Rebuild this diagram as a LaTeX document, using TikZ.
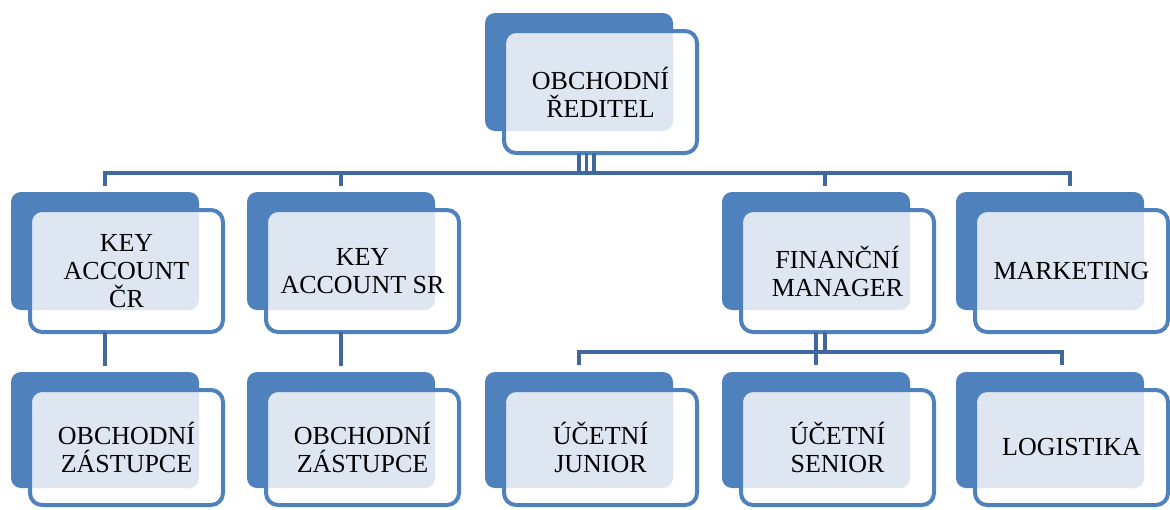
\documentclass[tikz,border=0pt]{standalone}
\usepackage{fontspec}
\setmainfont{Liberation Serif}
\usepackage{xcolor}
\usepackage{tikz}

\definecolor{boxblue}{RGB}{79,129,189}
\definecolor{lineblue}{RGB}{62,104,158}
\definecolor{dotblue}{RGB}{222,230,242}

% one box: name, left x and top y of the back shape, text
\newcommand{\orgbox}[4]{%
  \node[backbox, anchor=north west] (#1-b) at (#2,#3) {};
  \node[frontbox, anchor=north west] (#1) at (#2+19,#3+18) {};
  \begin{scope}
    \clip[rounded corners=10pt] (#1-b.south west) rectangle (#1-b.north east);
    \fill[dotblue, rounded corners=12pt] (#1.south west) rectangle (#1.north east);
  \end{scope}
  \draw[frontline] (#1.south west) rectangle (#1.north east);
  \node[boxtext] (#1-t) at (#1.center) {#4};
}

\begin{document}
\begin{tikzpicture}[x=1pt, y=-1pt,
  backbox/.style={fill=boxblue, rounded corners=10pt, minimum width=188pt,
    minimum height=118pt, inner sep=0pt, outer sep=0pt},
  frontbox/.style={fill=white, rounded corners=12pt, minimum width=193pt,
    minimum height=122pt, inner sep=0pt, outer sep=0pt},
  frontline/.style={draw=boxblue, line width=4pt, rounded corners=12pt},
  boxtext/.style={align=center, inner sep=0pt, font=\fontsize{26}{28}\selectfont},
  link/.style={draw=lineblue, line width=4pt}]

  \useasboundingbox (0,0) rectangle (1170,509);

  % top
  \orgbox{top}{485}{13}{OBCHODNÍ\\ŘEDITEL}

  % row 1
  \orgbox{kacr}{11}{192}{KEY\\ACCOUNT\\ČR}
  \orgbox{kasr}{247}{192}{KEY\\ACCOUNT SR}
  \orgbox{fin}{722}{192}{FINANČNÍ\\MANAGER}
  \orgbox{mkt}{956}{192}{MARKETING}

  % row 2
  \tikzset{frontbox/.append style={minimum height=115pt},
    backbox/.append style={minimum height=116pt}}
  \orgbox{oz1}{11}{372}{OBCHODNÍ\\ZÁSTUPCE}
  \orgbox{oz2}{247}{372}{OBCHODNÍ\\ZÁSTUPCE}
  \orgbox{ucj}{485}{372}{ÚČETNÍ\\JUNIOR}
  \orgbox{ucs}{722}{372}{ÚČETNÍ\\SENIOR}
  \orgbox{log}{956}{372}{LOGISTIKA}

  \coordinate (bus1) at (0,173);
  \coordinate (bus2) at (0,352);

  % from the top box
  \foreach \dx in {0,7.5,15}{
    \draw[link, line width=3.5pt] ([xshift=\dx pt]top-b.center |- top.south)
      -- ([xshift=\dx pt]top-b.center |- bus1);
  }
  \draw[link] ([yshift=6pt]kacr-b.north) -- (kacr-b.north |- bus1)
    -- ([xshift=20pt]mkt-b.north |- bus1) -- ([xshift=20pt,yshift=6pt]mkt-b.north);
  \draw[link] (kasr-b.north |- bus1) -- ([yshift=6pt]kasr-b.north);
  \draw[link] ([xshift=9pt]fin-b.north |- bus1) -- ([xshift=9pt,yshift=6pt]fin-b.north);

  % row 1 to row 2
  \draw[link] (kacr-b.center |- kacr.south) -- ([yshift=6pt]oz1-b.north);
  \draw[link] (kasr-b.center |- kasr.south) -- ([yshift=6pt]oz2-b.north);
  \draw[link] (fin-b.center |- fin.south) -- ([yshift=7pt]ucs-b.north);
  \draw[link] ([xshift=9pt]fin-b.center |- fin.south) -- ([xshift=9pt]fin-b.center |- bus2);
  \draw[link] ([yshift=7pt]ucj-b.north) -- (ucj-b.north |- bus2)
    -- ([xshift=12pt]log-b.north |- bus2) -- ([xshift=12pt,yshift=7pt]log-b.north);

\end{tikzpicture}
\end{document}
